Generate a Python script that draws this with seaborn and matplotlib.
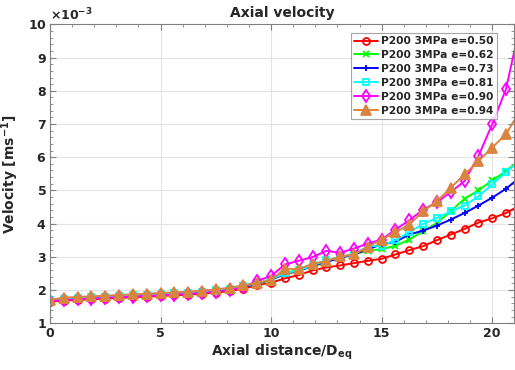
import matplotlib
matplotlib.use("Agg")
import matplotlib.pyplot as plt
import matplotlib.ticker as mticker
import pandas as pd
import seaborn as sns

# axial distance / D_eq
distance = [0.0, 0.625, 1.25, 1.875, 2.5, 3.125, 3.75, 4.375, 5.0, 5.625,
            6.25, 6.875, 7.5, 8.125, 8.75, 9.375, 10.0, 10.625, 11.25, 11.875,
            12.5, 13.125, 13.75, 14.375, 15.0, 15.625, 16.25, 16.875, 17.5, 18.125,
            18.75, 19.375, 20.0, 20.625, 21.25]

# velocity in units of 1e-3 m/s
e050 = [1.65, 1.68, 1.70, 1.72, 1.74, 1.76, 1.78, 1.80, 1.82, 1.84,
        1.86, 1.89, 1.92, 1.97, 2.04, 2.15, 2.22, 2.35, 2.45, 2.59,
        2.68, 2.74, 2.81, 2.88, 2.94, 3.07, 3.20, 3.32, 3.50, 3.67,
        3.84, 4.03, 4.16, 4.32, 4.55]
e062 = [1.69, 1.73, 1.75, 1.77, 1.79, 1.81, 1.83, 1.85, 1.87, 1.89,
        1.91, 1.94, 1.98, 2.03, 2.11, 2.18, 2.30, 2.52, 2.60, 2.70,
        2.85, 2.98, 3.08, 3.18, 3.23, 3.33, 3.52, 3.77, 4.02, 4.37,
        4.75, 5.00, 5.30, 5.58, 5.92]
e073 = [1.68, 1.72, 1.74, 1.76, 1.78, 1.80, 1.82, 1.84, 1.86, 1.88,
        1.90, 1.93, 1.97, 2.02, 2.10, 2.19, 2.32, 2.47, 2.58, 2.72,
        2.85, 2.96, 3.08, 3.22, 3.38, 3.45, 3.67, 3.79, 3.94, 4.12,
        4.32, 4.54, 4.78, 5.05, 5.39]
e081 = [1.70, 1.74, 1.76, 1.78, 1.80, 1.82, 1.84, 1.86, 1.88, 1.90,
        1.92, 1.95, 1.99, 2.04, 2.12, 2.20, 2.33, 2.50, 2.59, 2.74,
        2.89, 2.99, 3.09, 3.31, 3.34, 3.50, 3.74, 3.99, 4.17, 4.37,
        4.54, 4.82, 5.18, 5.55, 5.88]
e090 = [1.66, 1.70, 1.72, 1.74, 1.76, 1.78, 1.80, 1.82, 1.84, 1.86,
        1.88, 1.91, 1.95, 2.00, 2.08, 2.28, 2.42, 2.77, 2.88, 2.99,
        3.18, 3.12, 3.25, 3.40, 3.52, 3.82, 4.10, 4.42, 4.64, 4.95,
        5.28, 6.03, 6.99, 8.05, 9.95]
e094 = [1.70, 1.77, 1.79, 1.81, 1.83, 1.85, 1.87, 1.89, 1.91, 1.93,
        1.95, 1.98, 2.02, 2.07, 2.14, 2.22, 2.30, 2.64, 2.63, 2.79,
        2.87, 3.01, 3.07, 3.30, 3.52, 3.74, 3.97, 4.37, 4.67, 5.08,
        5.48, 5.88, 6.29, 6.69, 7.40]

labels = ["P200 3MPa e=0.50", "P200 3MPa e=0.62", "P200 3MPa e=0.73",
          "P200 3MPa e=0.81", "P200 3MPa e=0.90", "P200 3MPa e=0.94"]
series = [e050, e062, e073, e081, e090, e094]

styles = [
    dict(color="#FF0000", marker="o", markersize=5, markerfacecolor="none"),
    dict(color="#00FF00", marker="x", markersize=4),
    dict(color="#0000FF", marker="+", markersize=5),
    dict(color="#00FFFF", marker="s", markersize=4.5, markerfacecolor="none"),
    dict(color="#FF00FF", marker="d", markersize=6, markerfacecolor="none"),
    dict(color="#D9853F", marker="^", markersize=7),
]

sns.set_theme(style="ticks")
plt.rcParams["font.family"] = ["DejaVu Sans"]
plt.rcParams["font.weight"] = "bold"
plt.rcParams["mathtext.default"] = "bf"

fig = plt.figure(figsize=(5.15, 3.70), dpi=100)
ax = fig.add_axes([0.097, 0.1265, 0.9016, 0.8075])

for vals, label, st in zip(series, labels, styles):
    df = pd.DataFrame({"x": distance, "v": [v * 1e-3 for v in vals]})
    sns.lineplot(data=df, x="x", y="v", ax=ax, label=label, linewidth=1.4,
                 markeredgewidth=1.3, markeredgecolor=st["color"], **st)

ax.set_xlim(0, 21)
ax.set_ylim(1e-3, 10e-3)
ax.xaxis.set_major_locator(mticker.MultipleLocator(5))
ax.xaxis.set_minor_locator(mticker.MultipleLocator(1))
ax.yaxis.set_major_locator(mticker.MultipleLocator(1e-3))
ax.yaxis.set_minor_locator(mticker.MultipleLocator(0.2e-3))
fmt = mticker.ScalarFormatter(useMathText=True)
ax.yaxis.set_major_formatter(fmt)
ax.ticklabel_format(axis="y", style="sci", scilimits=(-3, -3), useMathText=True)

ax.grid(True, which="major", color="#E3E3E3", linewidth=0.8)
ax.set_axisbelow(True)
for sp in ax.spines.values():
    sp.set_visible(True)
    sp.set_color("#808080")
    sp.set_linewidth(0.8)
ax.tick_params(which="both", direction="in", top=True, right=True,
               colors="#808080", labelcolor="#262626", labelsize=9, pad=2.5)
ax.tick_params(which="major", length=4, width=0.8)
ax.tick_params(which="minor", length=2, width=0.6)
for t in ax.get_xticklabels() + ax.get_yticklabels():
    t.set_fontweight("bold")
ax.yaxis.get_offset_text().set_fontsize(9)
ax.yaxis.get_offset_text().set_fontweight("bold")
ax.yaxis.get_offset_text().set_color("#262626")

ax.set_title("Axial velocity", fontsize=10, fontweight="bold", pad=5)
ax.set_xlabel(r"Axial distance/D$_{eq}$", fontsize=10, fontweight="bold", labelpad=2)
ax.set_ylabel(r"Velocity [ms$^{-1}$]", fontsize=10, fontweight="bold", labelpad=5)

leg = ax.legend(loc="upper right", bbox_to_anchor=(0.962, 0.971), borderaxespad=0,
                fontsize=7.7, frameon=True, fancybox=False,
                labelspacing=0.36, handlelength=2.2,
                handletextpad=0.3, borderpad=0.3)
leg.get_frame().set_edgecolor("#909090")
leg.get_frame().set_linewidth(0.8)
for t in leg.get_texts():
    t.set_fontweight("bold")

fig.savefig("out.png", dpi=100)
